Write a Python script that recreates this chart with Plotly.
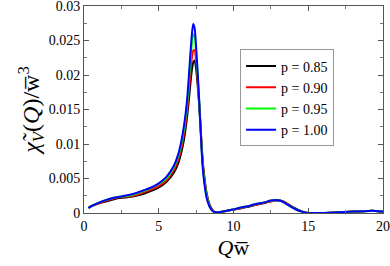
import plotly.graph_objects as go

Q = [0.3, 0.5, 1.0, 1.5, 2.0, 2.5, 3.0, 3.5, 4.0, 4.5, 5.0, 5.5, 6.0, 6.3, 6.5, 6.7, 6.9, 7.05,
     7.2, 7.3, 7.4, 7.5, 7.6, 7.7, 7.8, 7.9, 8.0, 8.2, 8.4, 8.6, 8.8, 9.0, 9.5, 10.0, 10.5, 11.0,
     11.5, 12.0, 12.5, 12.8, 13.1, 13.4, 13.7, 14.0, 14.3, 14.6, 15.0, 15.5, 16.0, 17.0, 18.0,
     19.0, 19.5, 20.0]

p085 = [0.0008, 0.0010, 0.0014, 0.0017, 0.0020, 0.0022, 0.0023, 0.0025, 0.0028, 0.0032, 0.0037,
        0.0045, 0.0058, 0.0072, 0.0087, 0.0108, 0.0140, 0.0172, 0.0205, 0.0218, 0.0221, 0.0209,
        0.0186, 0.0158, 0.0124, 0.0088, 0.0062, 0.0029, 0.0012, 0.0004, 0.0001, 0.0001, 0.0003,
        0.0005, 0.0007, 0.0009, 0.0012, 0.0014, 0.0017, 0.0018, 0.0018, 0.0016, 0.0012, 0.0008,
        0.0005, 0.0002, 0.0000, 0.0000, 0.0000, 0.0001, 0.0002, 0.0003, 0.0003, 0.0002]
p090 = [0.0008, 0.0010, 0.0014, 0.0018, 0.0021, 0.0023, 0.0024, 0.0026, 0.0030, 0.0034, 0.0039,
        0.0047, 0.0062, 0.0077, 0.0093, 0.0116, 0.0150, 0.0186, 0.0222, 0.0235, 0.0236, 0.0220,
        0.0193, 0.0161, 0.0124, 0.0085, 0.0059, 0.0027, 0.0011, 0.0004, 0.0001, 0.0001, 0.0003,
        0.0005, 0.0007, 0.0010, 0.0012, 0.0015, 0.0017, 0.0019, 0.0018, 0.0016, 0.0012, 0.0008,
        0.0004, 0.0002, 0.0000, 0.0000, 0.0000, 0.0001, 0.0002, 0.0003, 0.0003, 0.0002]
p095 = [0.0008, 0.0010, 0.0015, 0.0019, 0.0022, 0.0024, 0.0025, 0.0028, 0.0032, 0.0036, 0.0042,
        0.0050, 0.0066, 0.0082, 0.0099, 0.0123, 0.0158, 0.0200, 0.0242, 0.0259, 0.0256, 0.0232,
        0.0200, 0.0164, 0.0122, 0.0082, 0.0056, 0.0025, 0.0010, 0.0003, 0.0001, 0.0001, 0.0003,
        0.0005, 0.0008, 0.0010, 0.0013, 0.0015, 0.0018, 0.0019, 0.0018, 0.0015, 0.0011, 0.0007,
        0.0004, 0.0002, 0.0000, 0.0000, 0.0000, 0.0001, 0.0002, 0.0003, 0.0003, 0.0002]
p100 = [0.0007, 0.0010, 0.0015, 0.0019, 0.0022, 0.0024, 0.0026, 0.0029, 0.0033, 0.0037, 0.0043,
        0.0052, 0.0068, 0.0085, 0.0103, 0.0128, 0.0165, 0.0210, 0.0255, 0.0274, 0.0268, 0.0240,
        0.0205, 0.0165, 0.0120, 0.0078, 0.0052, 0.0022, 0.0009, 0.0003, 0.0001, 0.0001, 0.0003,
        0.0005, 0.0008, 0.0010, 0.0013, 0.0015, 0.0018, 0.0019, 0.0018, 0.0015, 0.0011, 0.0007,
        0.0004, 0.0002, 0.0000, 0.0000, 0.0000, 0.0001, 0.0002, 0.0003, 0.0003, 0.0002]

series = [("p = 0.85", p085, "#000000"), ("p = 0.90", p090, "#ff0000"),
          ("p = 0.95", p095, "#00ff00"), ("p = 1.00", p100, "#0000ff")]

x_ticks = [0, 5, 10, 15, 20]
y_ticks = [0, 0.005, 0.01, 0.015, 0.02, 0.025, 0.03]
y_labels = ["0", "0.005", "0.01", "0.015", "0.02", "0.025", "0.03"]

FONT = "Liberation Serif, Times New Roman, serif"

fig = go.Figure()
for name, vals, col in series:
    fig.add_trace(go.Scatter(x=Q, y=vals, name=name, mode="lines",
                             line=dict(color=col, width=2, shape="spline", smoothing=0.6)))

axis_common = dict(showline=True, linecolor="#555555", linewidth=1, mirror="allticks",
                   ticks="inside", ticklen=5, tickcolor="#555555", showgrid=False,
                   zeroline=False, automargin=False, ticklabeloverflow="allow",
                   tickfont=dict(family=FONT, size=14, color="black"))

fig.update_xaxes(range=[0, 20], tickvals=x_ticks,
                 minor=dict(dtick=2.5, ticks="inside", ticklen=3, tickcolor="#777777"),
                 title=dict(text="<i>Q</i>w\u0305", font=dict(family=FONT, size=22, color="black"),
                            standoff=6),
                 **axis_common)
fig.update_yaxes(range=[0, 0.03], tickvals=y_ticks, ticktext=y_labels,
                 minor=dict(dtick=0.0025, ticks="inside", ticklen=3, tickcolor="#777777"),
                 title=dict(text="<i>\u03c7\u0303</i><sub><i>V</i></sub>(<i>Q</i>)/w\u0305<sup>3</sup>",
                            font=dict(family=FONT, size=24, color="black"), standoff=2),
                 **axis_common)

fig.update_layout(
    width=390, height=266,
    margin=dict(l=84, r=7, t=6, b=53),
    plot_bgcolor="white", paper_bgcolor="white",
    showlegend=True,
    legend=dict(x=0.522, y=0.79, xanchor="left", yanchor="top",
                bordercolor="#999999", borderwidth=1, bgcolor="white",
                font=dict(family=FONT, size=14, color="black"),
                itemwidth=30, tracegroupgap=0),
)

fig.write_html("out.html", config={"displayModeBar": False},
               post_script="document.body.style.margin='0';")
